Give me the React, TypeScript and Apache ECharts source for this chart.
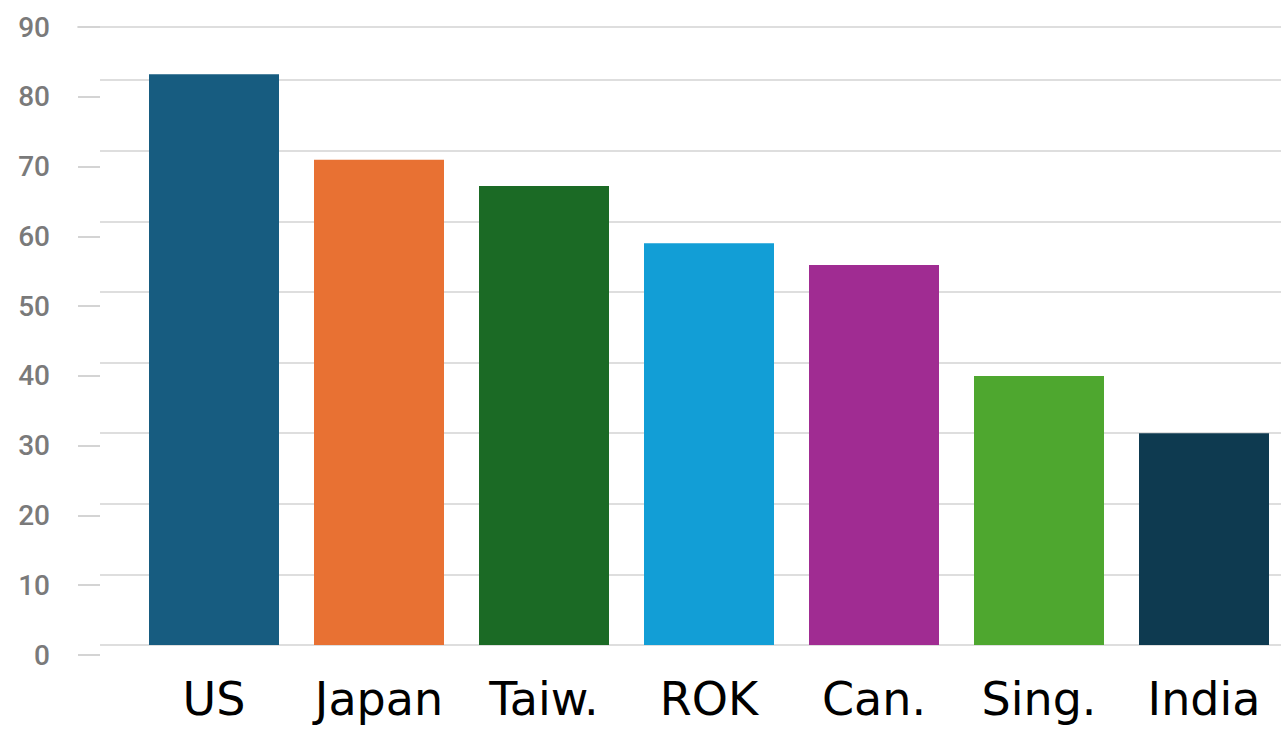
import React, { useEffect, useRef } from "react";
import * as echarts from "echarts";

const categories = ["US", "Japan", "Taiw.", "ROK", "Can.", "Sing.", "India"];
const values = [80.8, 68.7, 65.0, 56.9, 53.8, 38.1, 30.0];
const barColors = ["#175c80", "#e87133", "#1b6a25", "#129ed6", "#a02c92", "#4ea72f", "#0e3a50"];
const tickValues = [0, 10, 20, 30, 40, 50, 60, 70, 80, 90];

export default function App() {
  const ref = useRef<HTMLDivElement>(null);
  useEffect(() => {
    if (!ref.current) return;
    const chart = echarts.init(ref.current, undefined, { renderer: "svg" });
    const grey = "#dedede";
    chart.setOption({
      animation: false,
      backgroundColor: "#ffffff",
      grid: [
        { left: 100, width: 1181, top: 80, bottom: 84 },
        { left: 131.5, width: 1155, top: 9.4, bottom: 84 },
        { left: 78, width: 1203, top: 27, bottom: 74 },
      ],
      xAxis: [
        { gridIndex: 0, type: "value", show: false },
        {
          gridIndex: 1,
          type: "category",
          data: categories,
          axisLine: { show: false },
          axisTick: { show: false },
          axisLabel: {
            interval: 0,
            margin: 31,
            fontFamily: "DejaVu Sans",
            fontSize: 46,
            color: "#000000",
          },
        },
        {
          gridIndex: 2,
          type: "value",
          position: "top",
          axisLine: { show: true, onZero: false, lineStyle: { color: grey, width: 2 } },
          axisTick: { show: false },
          axisLabel: { show: false },
          splitLine: { show: false },
        },
      ],
      yAxis: [
        {
          gridIndex: 0,
          type: "value",
          min: 0,
          max: 80,
          interval: 10,
          axisLine: { show: false },
          axisTick: { show: false },
          axisLabel: { show: false },
          splitLine: { show: true, lineStyle: { color: grey, width: 2 } },
        },
        { gridIndex: 1, type: "value", min: 0, max: 90, show: false },
        {
          gridIndex: 2,
          type: "value",
          min: tickValues[0],
          max: tickValues[tickValues.length - 1],
          interval: 10,
          axisLine: { show: false },
          splitLine: { show: false },
          axisTick: { show: true, inside: true, length: 22, lineStyle: { color: "#d4d4d4", width: 2 } },
          axisLabel: {
            margin: 28,
            fontFamily: "Roboto",
            fontWeight: 500,
            fontSize: 28,
            color: "#7a7a7a",
          },
        },
      ],
      series: [
        {
          type: "bar",
          xAxisIndex: 1,
          yAxisIndex: 1,
          barWidth: 130,
          data: values.map((v, i) => ({ value: v, itemStyle: { color: barColors[i] } })),
        },
      ],
    });
    return () => chart.dispose();
  }, []);
  return (
    <div style={{ position: "fixed", left: 0, top: 0, width: 1281, height: 729, overflow: "hidden" }}>
      <div ref={ref} style={{ width: 1300, height: 729 }} />
    </div>
  );
}
